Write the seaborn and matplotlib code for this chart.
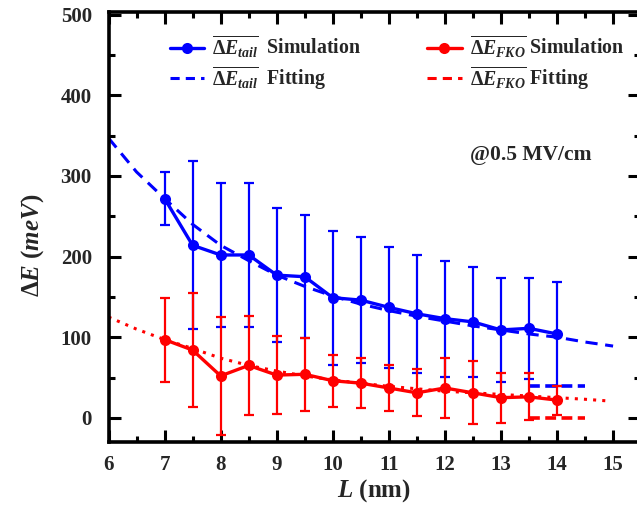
import numpy as np
import pandas as pd
import matplotlib
matplotlib.use("Agg")
import matplotlib.pyplot as plt
import seaborn as sns
from matplotlib.lines import Line2D

# ---- data ----
L_sim = [7, 7.5, 8, 8.5, 9, 9.5, 10, 10.5, 11, 11.5, 12, 12.5, 13, 13.5, 14]
tail_sim = [272, 214, 202, 202, 177, 175, 149, 146, 137, 129, 123, 119, 109, 111, 104]
tail_err = [33, 104, 89, 89, 83, 76, 83, 78, 75, 73, 72, 68, 65, 63, 64]
fko_sim = [97, 84, 52, 65, 53, 54, 46, 43, 37, 31, 37, 31, 25, 26, 22]
fko_err = [52, 71, 73, 61, 48, 45, 32, 31, 28, 29, 37, 39, 31, 29, 18]

L_fit_tail = [6, 6.5, 7, 7.5, 8, 8.5, 9, 9.5, 10, 10.5, 11, 11.5, 12, 12.5, 13, 13.5, 14, 14.5, 15]
tail_fit = [347, 305, 272, 240, 214, 195, 177, 163, 151, 141, 133, 126, 120, 114, 109, 104, 100, 94, 89]
L_fit_fko = [6, 6.5, 7, 7.5, 8, 8.5, 9, 9.5, 10, 10.5, 11, 11.5, 12, 12.5, 13, 13.5, 14, 14.5, 14.9]
fko_fit = [125, 110, 97, 86, 74, 65, 58, 52, 47, 43, 39, 36, 33, 31, 29, 27, 25, 23, 21]

seg_x = [13.5, 14.5]
tail_seg = [40, 40]
fko_seg = [0, 0]

x_ticks = [6, 7, 8, 9, 10, 11, 12, 13, 14, 15]
y_ticks = [0, 100, 200, 300, 400, 500]

BLUE = "#0000FF"
RED = "#FF0000"

sns.set_theme(style="ticks")
plt.rcParams["font.family"] = ["Liberation Serif", "DejaVu Serif"]
plt.rcParams["font.weight"] = "bold"
plt.rcParams["mathtext.fontset"] = "custom"
plt.rcParams["mathtext.rm"] = "Liberation Serif:bold"
plt.rcParams["mathtext.it"] = "Liberation Serif:italic:bold"
plt.rcParams["mathtext.bf"] = "Liberation Serif:bold"

fig = plt.figure(figsize=(6.37, 5.21), dpi=100)
ax = fig.add_axes([108.5 / 637, 1 - 442 / 521, (640 - 108.5) / 637, (442 - 11.5) / 521])

df_tf = pd.DataFrame({"L": L_fit_tail, "E": tail_fit})
df_ff = pd.DataFrame({"L": L_fit_fko, "E": fko_fit})
df_ts = pd.DataFrame({"L": L_sim, "E": tail_sim})
df_fs = pd.DataFrame({"L": L_sim, "E": fko_sim})

sns.lineplot(data=df_tf, x="L", y="E", ax=ax, color=BLUE, lw=2.2,
             linestyle=(0, (4, 2.5)), zorder=2)
sns.lineplot(data=df_ff, x="L", y="E", ax=ax, color=RED, lw=2.2,
             linestyle=(0, (1, 2)), zorder=2)
ax.plot(seg_x, tail_seg, color=BLUE, lw=2.6, linestyle=(0, (3, 1.5)), zorder=2)
ax.plot(seg_x, fko_seg, color=RED, lw=2.6, linestyle=(0, (3, 1.5)), zorder=2)

ax.errorbar(L_sim, tail_sim, yerr=tail_err, fmt="none", ecolor=BLUE,
            elinewidth=1.6, capsize=3.8, capthick=1.6, zorder=3)
sns.lineplot(data=df_ts, x="L", y="E", ax=ax, color=BLUE, lw=2.4,
             marker="o", markersize=8, markeredgewidth=0, zorder=4)
ax.errorbar(L_sim, fko_sim, yerr=fko_err, fmt="none", ecolor=RED,
            elinewidth=1.6, capsize=3.8, capthick=1.6, zorder=5)
sns.lineplot(data=df_fs, x="L", y="E", ax=ax, color=RED, lw=2.4,
             marker="o", markersize=8, markeredgewidth=0, zorder=6)

ax.set_xlim(6, 15.48)
ax.set_ylim(-30, 504)
ax.set_xticks(x_ticks)
ax.set_yticks(y_ticks)
ax.set_xticks(np.arange(6.5, 15.5, 1.0), minor=True)
ax.set_yticks(np.arange(50, 500, 100), minor=True)
ax.tick_params(which="both", direction="in", top=True, right=True, width=2.2,
               color="black")
ax.tick_params(which="major", length=8.5)
ax.tick_params(which="minor", length=4.5)
ax.tick_params(axis="y", which="major", pad=12, labelsize=15)
ax.tick_params(axis="x", which="major", pad=9, labelsize=15)
for lab in ax.get_xticklabels() + ax.get_yticklabels():
    lab.set_fontweight("bold")
for sp in ax.spines.values():
    sp.set_linewidth(2.6)
    sp.set_color("black")

ax.set_xlabel(r"$L$ (nm)", fontsize=18, fontweight="bold", labelpad=2)
ax.set_ylabel(r"$\Delta E$ $(meV)$", fontsize=18, fontweight="bold")
ax.yaxis.set_label_coords(-0.118, 0.458)

handles = [
    Line2D([], [], color=BLUE, lw=2.4, marker="o", markersize=8, markeredgewidth=0),
    Line2D([], [], color=BLUE, lw=2.2, linestyle=(0, (3, 2))),
    Line2D([], [], color=RED, lw=2.4, marker="o", markersize=8, markeredgewidth=0),
    Line2D([], [], color=RED, lw=2.2, linestyle=(0, (3, 2))),
]
labels = [
    r"$\overline{\Delta E_{tail}}$  Simulation",
    r"$\overline{\Delta E_{tail}}$  Fitting",
    r"$\overline{\Delta E_{FKO}}$ Simulation",
    r"$\overline{\Delta E_{FKO}}$ Fitting",
]
ax.legend(handles, labels, ncol=2, frameon=False, loc="upper left",
          bbox_to_anchor=(0.10, 0.968), prop={"size": 14.3, "weight": "bold"},
          handlelength=1.75, handletextpad=0.4, columnspacing=3.3,
          labelspacing=0.2, borderaxespad=0)

ax.text(592 / 637, 1 - 155 / 521, "@0.5 MV/cm", transform=fig.transFigure,
        ha="right", va="center", fontsize=15.5, fontweight="bold")

fig.savefig("out.png", dpi=100)
